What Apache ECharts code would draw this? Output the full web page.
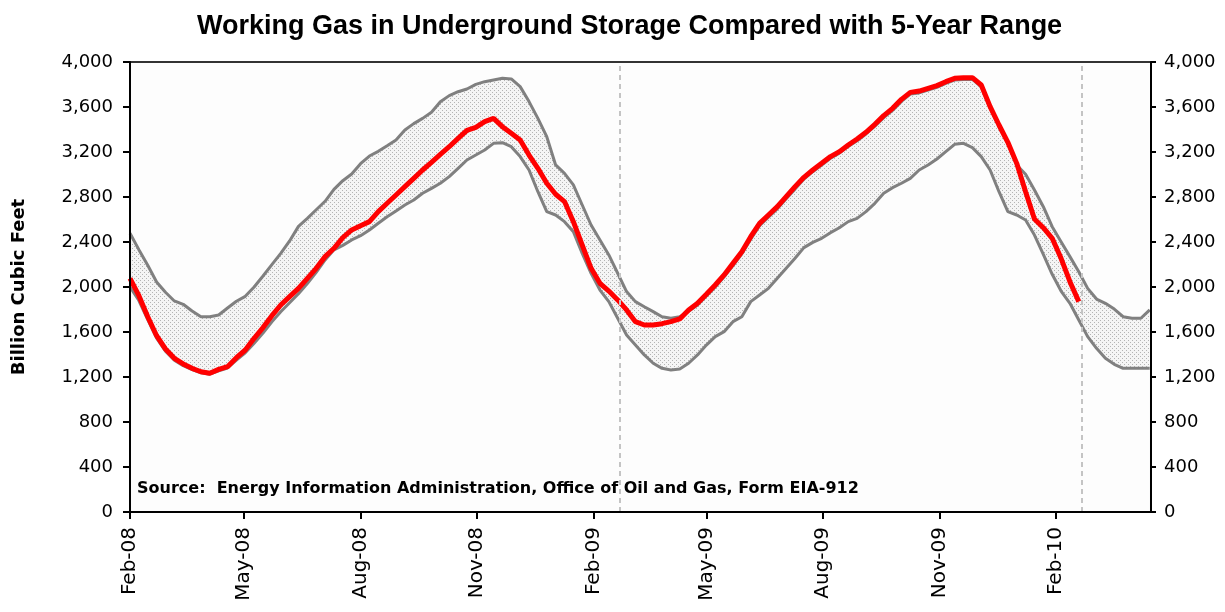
<!DOCTYPE html>
<html>
<head>
<meta charset="utf-8">
<script src="https://cdn.jsdelivr.net/npm/echarts@6/dist/echarts.min.js"></script>
<style>
html, body { margin: 0; padding: 0; background: #ffffff; }
#chart { width: 1225px; height: 612px; }
</style>
</head>
<body>
<div id="chart"></div>
<script>
// weekly series, first week = Fri Feb 1 2008
const startDate = '2008-02-01'
const axisEnd = '2010-04-17'

// working gas in storage 2008-2010 (Bcf)
const storage = [
  2077, 1923, 1736, 1567, 1449, 1366, 1316, 1277, 1247, 1233, 1268, 1292, 1372, 1440, 1544, 1639, 1745, 1840, 1914, 1988,
  2077, 2166, 2270, 2344, 2439, 2507, 2545, 2581, 2670, 2744, 2818, 2892, 2966, 3040, 3108, 3179, 3247, 3321, 3393,
  3419, 3470, 3499, 3425, 3366, 3307, 3173, 3055, 2922, 2824, 2759, 2581, 2373, 2166, 2033, 1964, 1885, 1796, 1692,
  1662, 1662, 1674, 1692, 1716, 1796, 1855, 1935, 2018, 2107, 2210, 2314, 2447, 2566, 2640, 2714, 2803, 2892, 2975,
  3040, 3099, 3159, 3203, 3262, 3316, 3375, 3446, 3523, 3588, 3668, 3730, 3742, 3766, 3790, 3825, 3855, 3861, 3861,
  3796, 3603, 3440, 3286, 3099, 2847, 2605, 2527, 2433, 2255, 2047, 1870
]

// 5-year range, maximum
const rangeMax = [
  2477, 2332, 2193, 2044, 1953, 1876, 1846, 1787, 1736, 1736, 1751, 1813, 1873, 1917, 2000, 2098, 2199, 2299, 2409, 2539,
  2610, 2687, 2762, 2868, 2945, 3005, 3096, 3164, 3206, 3256, 3307, 3396, 3452, 3499, 3553, 3647, 3701, 3736, 3760,
  3801, 3825, 3840, 3855, 3849, 3781, 3648, 3499, 3336, 3085, 3010, 2907, 2729, 2551, 2418, 2285, 2122, 1959, 1870,
  1825, 1781, 1736, 1722, 1736, 1785, 1840, 1920, 2000, 2090, 2190, 2295, 2425, 2545, 2620, 2695, 2785, 2870, 2960,
  3025, 3085, 3145, 3190, 3250, 3300, 3360, 3430, 3505, 3570, 3650, 3715, 3725, 3750, 3775, 3810, 3840, 3845, 3845,
  3780, 3590, 3425, 3275, 3084, 3002, 2862, 2714, 2536, 2403, 2270, 2136, 1988, 1893, 1855, 1804, 1736, 1722, 1722, 1796
]

// 5-year range, minimum
const rangeMin = [
  2000, 1880, 1710, 1545, 1430, 1350, 1300, 1265, 1238, 1225, 1255, 1280, 1350, 1415, 1500, 1590, 1690, 1780, 1860, 1940,
  2030, 2130, 2240, 2330, 2370, 2418, 2456, 2507, 2566, 2625, 2676, 2729, 2773, 2833, 2877, 2922, 2981, 3055, 3129,
  3173, 3218, 3277, 3283, 3247, 3159, 3040, 2847, 2670, 2640, 2581, 2492, 2299, 2122, 1973, 1870, 1722, 1573, 1484,
  1396, 1322, 1277, 1262, 1271, 1322, 1396, 1484, 1559, 1603, 1692, 1736, 1870, 1929, 1988, 2077, 2166, 2255, 2350,
  2397, 2433, 2483, 2527, 2581, 2610, 2670, 2744, 2833, 2883, 2922, 2966, 3040, 3084, 3138, 3203, 3268, 3277, 3239,
  3159, 3040, 2847, 2670, 2640, 2596, 2462, 2290, 2113, 1964, 1855, 1707, 1559, 1455, 1366, 1313, 1277, 1277, 1277, 1277
]

const tickDates = ['2008-02-01', '2008-05-01', '2008-08-01', '2008-11-01', '2009-02-01',
  '2009-05-01', '2009-08-01', '2009-11-01', '2010-02-01']
const markerDates = ['2009-02-22', '2010-02-21']

const MONTHS = ['Jan', 'Feb', 'Mar', 'Apr', 'May', 'Jun', 'Jul', 'Aug', 'Sep', 'Oct', 'Nov', 'Dec']
const DAY = 24 * 3600 * 1000
function ts(s) {
  let p = s.split('-')
  return Date.UTC(+p[0], +p[1] - 1, +p[2])
}
let t0 = ts(startDate)
// x axis runs in days since the first week
function dayOf(s) {
  return Math.round((ts(s) - t0) / DAY)
}
function weekly(arr) {
  return arr.map((v, i) => [i * 7, v])
}

// dotted fill like the excel pattern
let pat = document.createElement('canvas')
pat.width = 4
pat.height = 4
let ctx = pat.getContext('2d')
ctx.fillStyle = '#f5f5f5'
ctx.fillRect(0, 0, 4, 4)
ctx.fillStyle = '#b4b4b4'
ctx.fillRect(0, 0, 1, 1)
ctx.fillRect(2, 2, 1, 1)

const PLOT_BG = '#fdfdfd'
let labelFont = { fontFamily: 'DejaVu Sans', fontSize: 18, color: '#000' }
let axisLine = { show: true, lineStyle: { color: '#000', width: 2 } }
let tickDays = tickDates.map(dayOf)

let chart = echarts.init(document.getElementById('chart'))
chart.setOption({
  animation: false,
  backgroundColor: '#ffffff',
  title: {
    text: 'Working Gas in Underground Storage Compared with 5-Year Range',
    left: 192,
    top: 8,
    textStyle: { fontFamily: 'Liberation Sans', fontWeight: 'bold', fontSize: 27, color: '#000' }
  },
  grid: {
    left: 130, right: 74, top: 62, bottom: 100,
    show: true, borderColor: '#333', borderWidth: 2, backgroundColor: PLOT_BG
  },
  xAxis: {
    type: 'value',
    min: 0,
    max: dayOf(axisEnd),
    z: 10,
    axisLine: axisLine,
    axisTick: { show: true, length: 7, lineStyle: { color: '#000', width: 2 }, customValues: tickDays },
    axisLabel: {
      rotate: 90,
      margin: 15,
      fontFamily: 'DejaVu Sans', fontSize: 20, color: '#000',
      customValues: tickDays,
      formatter: function (v) {
        let d = new Date(t0 + v * DAY)
        return MONTHS[d.getUTCMonth()] + '-' + String(d.getUTCFullYear()).slice(2)
      }
    },
    splitLine: { show: false }
  },
  yAxis: [{
    type: 'value', min: 0, max: 4000, interval: 400, position: 'left', z: 10,
    name: 'Billion Cubic Feet', nameLocation: 'middle', nameGap: 102, nameRotate: 90,
    nameTextStyle: { fontFamily: 'DejaVu Sans', fontWeight: 'bold', fontSize: 18, color: '#000' },
    axisLine: axisLine,
    axisTick: { show: true, length: 7, lineStyle: { color: '#000', width: 2 } },
    axisLabel: Object.assign({ margin: 17 }, labelFont),
    splitLine: { show: false }
  }, {
    type: 'value', min: 0, max: 4000, interval: 400, position: 'right', z: 10,
    axisLine: axisLine,
    axisTick: { show: true, length: 5, lineStyle: { color: '#000', width: 2 } },
    axisLabel: Object.assign({ margin: 13 }, labelFont),
    splitLine: { show: false }
  }],
  graphic: [{
    type: 'text',
    left: 137,
    top: 481,
    z: 100,
    style: {
      text: 'Source:  Energy Information Administration, Office of Oil and Gas, Form EIA-912',
      font: 'bold 16px "DejaVu Sans"',
      fill: '#000'
    }
  }],
  series: [{
    // dotted fill down from the max line, then masked below the min line
    name: 'band',
    type: 'line',
    data: weekly(rangeMax),
    symbol: 'none',
    lineStyle: { opacity: 0 },
    areaStyle: { color: { image: pat, repeat: 'repeat' }, opacity: 1 },
    silent: true,
    z: 1
  }, {
    name: 'mask',
    type: 'line',
    data: weekly(rangeMin),
    symbol: 'none',
    lineStyle: { opacity: 0 },
    areaStyle: { color: PLOT_BG, opacity: 1 },
    silent: true,
    z: 2
  }, {
    name: '5-Year Max',
    type: 'line',
    data: weekly(rangeMax),
    symbol: 'none',
    lineStyle: { color: '#808080', width: 3 },
    z: 3
  }, {
    name: '5-Year Min',
    type: 'line',
    data: weekly(rangeMin),
    symbol: 'none',
    lineStyle: { color: '#808080', width: 3 },
    z: 3
  }, {
    name: 'Working Gas',
    type: 'line',
    data: weekly(storage),
    symbol: 'none',
    lineStyle: { color: '#ff0000', width: 5 },
    z: 4,
    markLine: {
      silent: true,
      symbol: 'none',
      label: { show: false },
      lineStyle: { color: '#c4c4c4', type: [5, 4], width: 2 },
      data: markerDates.map(d => ({ xAxis: dayOf(d) }))
    }
  }]
})
</script>
</body>
</html>
